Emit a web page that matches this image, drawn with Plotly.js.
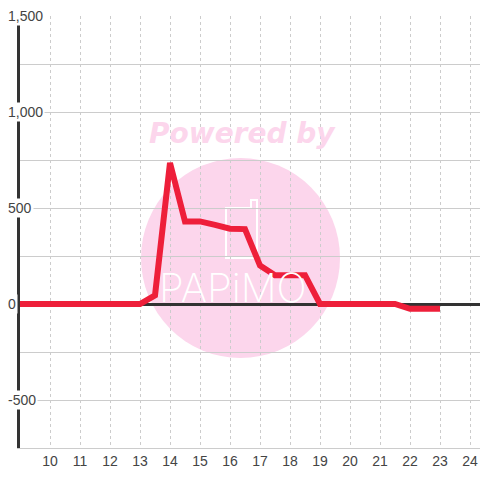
<!DOCTYPE html>
<html>
<head>
<meta charset="utf-8">
<script src="https://cdn.plot.ly/plotly-3.0.1.min.js"></script>
<style>html,body{margin:0;padding:0;background:#fff;}#chart{width:480px;height:480px;}</style>
</head>
<body>
<div id="chart"></div>
<script>
var hours = [9, 9.5, 10, 10.5, 11, 11.5, 12, 12.5, 13, 13.5, 14, 14.5, 15, 15.5, 16, 16.5, 17, 17.5, 18, 18.5, 19, 19.5, 20, 20.5, 21, 21.5, 22, 22.5, 23];
var values = [0, 0, 0, 0, 0, 0, 0, 0, 0, 45, 735, 430, 430, 412, 392, 390, 200, 150, 150, 150, 0, 0, 0, 0, 0, 0, -25, -25, -25];
var yTickValues = [1500, 1000, 500, 0, -500];
var yTickLabels = ["1,500", "1,000", "500", "0", "-500"];
var xTickValues = [10, 11, 12, 13, 14, 15, 16, 17, 18, 19, 20, 21, 22, 23, 24];

var W = 480, H = 480, L = 20, R = 0, T = 16, B = 32;
function px(x) { return (x - L) / (W - L - R); }
function py(y) { return (H - B - y) / (H - T - B); }

var annotations = yTickValues.map(function (v, i) {
  return {
    xref: 'paper', yref: 'y', x: px(6), y: v, xanchor: 'left', yanchor: 'middle',
    text: yTickLabels[i], showarrow: false, bgcolor: '#ffffff', borderpad: 1,
    font: {family: 'Liberation Sans, Arial, sans-serif', size: 14, color: '#444444'}
  };
});
annotations.push({
  xref: 'paper', yref: 'paper', x: px(242), y: py(133), xanchor: 'center', yanchor: 'middle',
  text: '<b><i>Powered by</i></b>', showarrow: false,
  font: {family: 'DejaVu Sans, sans-serif', size: 28, color: '#fcd6ec'}
});
annotations.push({
  xref: 'paper', yref: 'paper', x: px(233), y: py(287), xanchor: 'center', yanchor: 'middle',
  text: 'PAPiMO', showarrow: false,
  font: {family: 'Inter, sans-serif', size: 40, color: '#ffffff', weight: 200}
});

function pathPx(pts) {
  return pts.map(function (p, i) { return (i ? 'L' : 'M') + px(p[0]) + ',' + py(p[1]); }).join(' ') + ' Z';
}

var shapes = [
  {type: 'circle', xref: 'paper', yref: 'paper', layer: 'below',
   x0: px(141), x1: px(340), y0: py(358), y1: py(158),
   fillcolor: '#fcd6ec', line: {width: 0}},
  {type: 'path', xref: 'paper', yref: 'paper', layer: 'below',
   path: pathPx([[226, 208], [251, 208], [251, 200], [257, 200], [257, 258], [226, 258]]),
   line: {color: '#ffffff', width: 2}}
];

var trace = {
  x: hours, y: values, type: 'scatter', mode: 'lines',
  line: {color: '#ee1f3a', width: 6},
  hoverinfo: 'skip'
};

var layout = {
  width: W, height: H,
  margin: {l: L, r: R, t: T, b: B, pad: 0},
  paper_bgcolor: '#ffffff', plot_bgcolor: 'rgba(0,0,0,0)',
  showlegend: false,
  xaxis: {
    range: [9, 9 + 460 / 30], tickmode: 'array', tickvals: xTickValues,
    showgrid: true, gridcolor: '#cccccc', griddash: 'dot', gridwidth: 1,
    zeroline: false, showline: true, linecolor: '#cccccc', linewidth: 1,
    ticks: '', tickfont: {family: 'Liberation Sans, Arial, sans-serif', size: 14, color: '#444444'},
    fixedrange: true
  },
  yaxis: {
    range: [-750, 1500], dtick: 250, tick0: 0,
    showgrid: true, gridcolor: '#cccccc', gridwidth: 1,
    zeroline: true, zerolinecolor: '#333333', zerolinewidth: 3,
    showline: true, linecolor: '#333333', linewidth: 3,
    showticklabels: false, ticks: '', fixedrange: true
  },
  shapes: shapes,
  annotations: annotations
};

Plotly.newPlot('chart', [trace], layout, {displayModeBar: false, staticPlot: true});
</script>
</body>
</html>
